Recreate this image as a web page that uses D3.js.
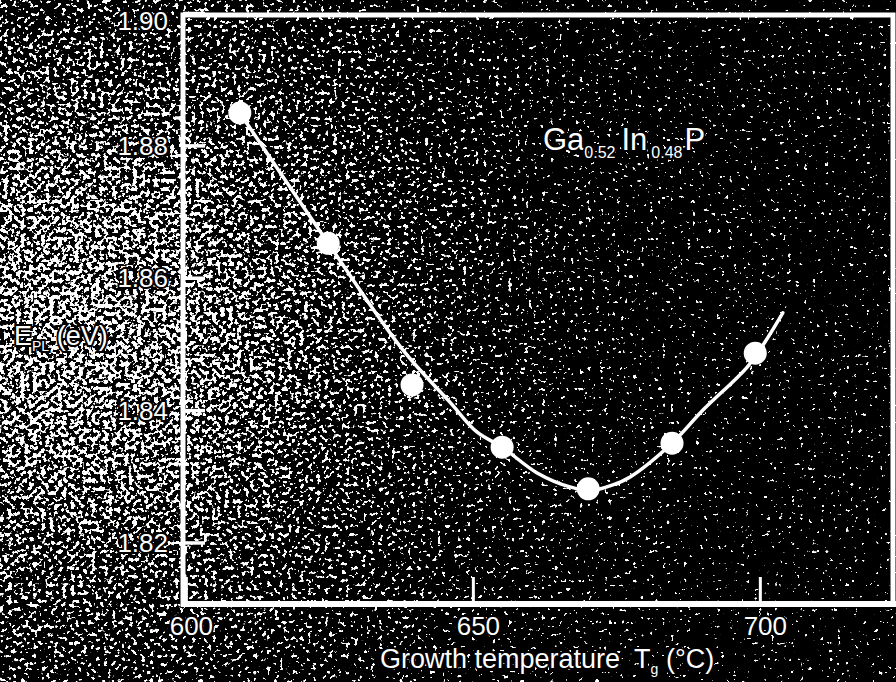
<!DOCTYPE html>
<html>
<head>
<meta charset="utf-8">
<script src="https://cdn.jsdelivr.net/npm/d3@7"></script>
<style>
  html, body { margin: 0; padding: 0; background: #000; }
  svg { display: block; font-family: "Liberation Sans", Arial, sans-serif; }
</style>
</head>
<body>
<svg id="chart" width="896" height="682"></svg>
<script>
// measured samples: growth temperature (°C) and PL peak energy (eV)
const tempC = [609.4, 624.8, 639.4, 655.1, 670.1, 684.7, 699.2];
const energyEV = [1.8849, 1.8652, 1.8438, 1.8344, 1.8281, 1.8350, 1.8486];

// hand-drawn guide curve through the points
const fitTemp = [609.4, 624.8, 637.8, 646.0, 650.7, 655.1, 661.2, 666.9, 670.8, 674.4, 677.4, 684.7, 690.1, 697.8, 700.9, 704.0];
const fitEnergy = [1.8849, 1.8652, 1.8491, 1.8412, 1.8367, 1.8344, 1.8305, 1.8284, 1.8279, 1.8287, 1.8299, 1.8350, 1.8400, 1.8465, 1.8503, 1.8547];

const xTicks = [600, 650, 700];
const yTicks = [1.82, 1.84, 1.86, 1.88, 1.90];

const svg = d3.select("#chart");
const width = +svg.attr("width");
const height = +svg.attr("height");
const margin = { top: 13, right: 3, bottom: 78, left: 183 };

const x = d3.scaleLinear().domain([599.5, 723.2]).range([margin.left, width - margin.right]);
const y = d3.scaleLinear().domain([1.8107, 1.90]).range([height - margin.bottom, margin.top]);

// photocopy grain: thresholded noise, denser towards the left side
const defs = svg.append("defs");
const grad = defs.append("radialGradient")
    .attr("id", "density")
    .attr("gradientUnits", "userSpaceOnUse")
    .attr("cx", 70).attr("cy", 330).attr("r", 680);
[[0, 0.65], [0.22, 0.61], [0.45, 0.53], [0.75, 0.44], [1, 0.41]].forEach(([o, v]) => {
    const g = Math.round(v * 255);
    grad.append("stop").attr("offset", o).attr("stop-color", `rgb(${g},${g},${g})`);
});
const filter = defs.append("filter")
    .attr("id", "grain")
    .attr("filterUnits", "userSpaceOnUse")
    .attr("x", 0).attr("y", 0).attr("width", width).attr("height", height)
    .attr("color-interpolation-filters", "sRGB");
filter.append("feTurbulence")
    .attr("type", "fractalNoise").attr("baseFrequency", 0.24)
    .attr("numOctaves", 2).attr("seed", 11).attr("result", "noise");
filter.append("feColorMatrix")
    .attr("in", "noise").attr("type", "matrix")
    .attr("values", "1 0 0 0 0  1 0 0 0 0  1 0 0 0 0  0 0 0 0 1")
    .attr("result", "grey");
filter.append("feComposite")
    .attr("in", "grey").attr("in2", "SourceGraphic").attr("operator", "arithmetic")
    .attr("k1", 0).attr("k2", 1).attr("k3", 1).attr("k4", -0.5)
    .attr("result", "biased");
filter.append("feColorMatrix")
    .attr("in", "biased").attr("type", "matrix")
    .attr("values", "0 0 0 0 1  0 0 0 0 1  0 0 0 0 1  25 0 0 0 -15.5");

svg.append("rect").attr("width", width).attr("height", height).attr("fill", "#000");
svg.append("rect")
    .attr("width", width).attr("height", height)
    .attr("fill", "url(#density)")
    .attr("filter", "url(#grain)");

// frame
svg.append("rect")
    .attr("x", x.range()[0]).attr("y", margin.top + 2)
    .attr("width", x.range()[1] - x.range()[0])
    .attr("height", y.range()[0] - margin.top - 2)
    .attr("fill", "none")
    .attr("stroke", "#fff")
    .attr("stroke-width", 5);
svg.append("line")
    .attr("x1", x.range()[0] - 2).attr("x2", width)
    .attr("y1", y.range()[0]).attr("y2", y.range()[0])
    .attr("stroke", "#fff").attr("stroke-width", 6);

const labelStyle = (sel) => sel
    .attr("fill", "#fff")
    .attr("stroke", "#000")
    .attr("stroke-width", 4)
    .attr("paint-order", "stroke")
    .style("font-size", "26px");

// y axis, ticks pointing inward
const yAxis = svg.append("g")
    .attr("transform", `translate(${x.range()[0]},0)`)
    .call(d3.axisLeft(y).tickValues(yTicks).tickSize(-22).tickPadding(15).tickFormat(d3.format(".2f")));
yAxis.select(".domain").remove();
yAxis.selectAll(".tick line").attr("stroke", "#fff").attr("stroke-width", 3.5);
yAxis.selectAll(".tick text").call(labelStyle)
    .attr("dy", (d) => (d === 1.90 ? "0.65em" : "0.35em"));

// x axis
const xAxis = svg.append("g")
    .attr("transform", `translate(0,${y.range()[0]})`)
    .call(d3.axisBottom(x).tickValues(xTicks).tickSize(-27).tickPadding(13));
xAxis.select(".domain").remove();
xAxis.selectAll(".tick line").attr("stroke", "#fff").attr("stroke-width", 3);
xAxis.selectAll(".tick text").call(labelStyle).attr("dx", 5);

// axis titles
const yTitle = svg.append("text").attr("x", 14).attr("y", 345).call(labelStyle).style("font-size", "27px");
yTitle.append("tspan").text("E");
yTitle.append("tspan").attr("dy", 6).style("font-size", "14px").text("PL");
yTitle.append("tspan").attr("dy", -6).text(" (eV)");

const xTitle = svg.append("text").attr("x", 380).attr("y", 668).call(labelStyle).style("font-size", "27px");
xTitle.append("tspan").text("Growth temperature");
xTitle.append("tspan").attr("dx", 14).text("T");
xTitle.append("tspan").attr("dy", 6).style("font-size", "14px").text("g");
xTitle.append("tspan").attr("dy", -6).text(" (°C)");

// compound label
const comp = svg.append("text").attr("x", 543).attr("y", 150).call(labelStyle).style("font-size", "31px");
comp.append("tspan").text("Ga");
comp.append("tspan").attr("dy", 8).style("font-size", "16px").text("0.52");
comp.append("tspan").attr("dy", -8).attr("dx", 6).text("In");
comp.append("tspan").attr("dy", 8).attr("dx", 4).style("font-size", "16px").text("0.48");
comp.append("tspan").attr("dy", -8).attr("dx", 2).text("P");

// guide curve
const line = d3.line()
    .x((d) => x(d[0]))
    .y((d) => y(d[1]))
    .curve(d3.curveCatmullRom.alpha(0.5));
svg.append("path")
    .datum(d3.zip(fitTemp, fitEnergy))
    .attr("d", line)
    .attr("fill", "none")
    .attr("stroke", "#fff")
    .attr("stroke-width", 3.5)
    .attr("stroke-linecap", "round");

// data points
svg.append("g")
    .selectAll("circle")
    .data(d3.zip(tempC, energyEV))
    .join("circle")
    .attr("cx", (d) => x(d[0]))
    .attr("cy", (d) => y(d[1]))
    .attr("r", 11.5)
    .attr("fill", "#fff");
</script>
</body>
</html>
